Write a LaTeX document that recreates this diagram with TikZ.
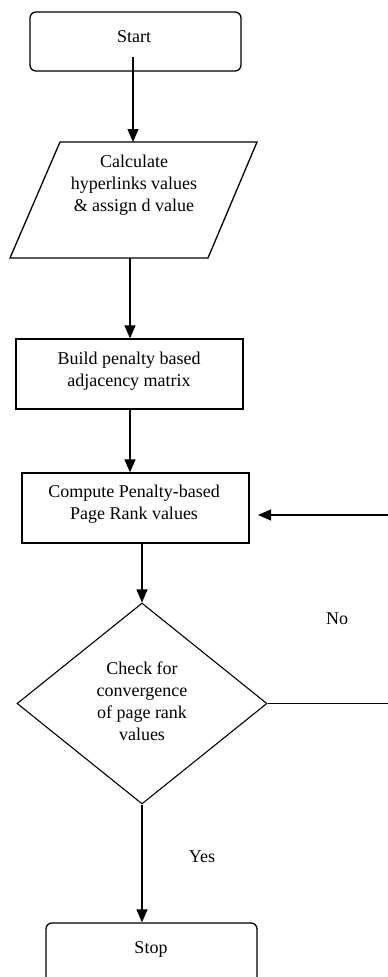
\documentclass[tikz,border=0pt]{standalone}
\usepackage{fontspec}
\setmainfont{Liberation Serif}
\usetikzlibrary{arrows.meta,shapes.geometric}
\begin{document}
\begin{tikzpicture}[x=1pt,y=-1pt,
  every node/.style={font=\fontsize{18}{22}\selectfont, align=center, inner sep=0pt},
  termbox/.style={draw, line width=1.3pt, rounded corners=6pt},
  procbox/.style={draw, line width=1.3pt},
  flow/.style={draw, line width=1.1pt, -{Triangle[width=11pt,length=13pt]}},
  plain/.style={draw, line width=1.1pt}]
\useasboundingbox (0,0) rectangle (388,977);
% Start
\node[termbox, minimum width=211pt, minimum height=59pt] (start) at (135.5,41.5) {};
\node (starttxt) at (134,37) {Start};
% parallelogram
\draw[procbox] (60,142) -- (257,142) -- (208,258) -- (10,258) -- cycle;
\node[minimum width=150pt, minimum height=116pt] (calc) at (133,200) {};
\node (calctxt) at (134,185) {Calculate\\hyperlinks values\\\& assign d value};
% build
\node[procbox, minimum width=227pt, minimum height=70pt] (build) at (129.5,374) {};
\node (buildtxt) at (129,371) {Build penalty based\\adjacency matrix};
% compute
\node[procbox, minimum width=227pt, minimum height=70pt] (comp) at (135.5,508) {};
\node (comptxt) at (134,504) {Compute Penalty-based\\Page Rank values};
% diamond
\node[draw, line width=1.1pt, diamond, minimum width=250pt, minimum height=201pt, inner sep=0pt] (check) at (142,703.5) {};
\node (checktxt) at (142,701) {Check for\\convergence\\of page rank\\values};
% stop
\node[termbox, minimum width=211pt, minimum height=70pt] (stop) at (151.5,958) {};
\node (stoptxt) at (151,949) {Stop};
% labels
\node (no) at (337,619) {No};
\node (yes) at (202,857) {Yes};
% connectors
\coordinate (s1) at (133,57);
\draw[flow] (s1) -- (133,142);
\draw[flow] (130,258) -- (build.north -| 130,0);
\draw[flow] (build.south -| 130,0) -- (comp.north -| 130,0);
\draw[flow] (comp.south -| 142,0) -- (check.north);
\draw[flow] (check.south) -- (stop.north -| check.south);
\coordinate (r1) at (396,703.5);
\coordinate (r2) at (396,515);
\coordinate (fbend) at (258,515);
\draw[plain] (check.east) -- (r1) -- (r2);
\draw[flow] (r2) -- (fbend);
\end{tikzpicture}
\end{document}
